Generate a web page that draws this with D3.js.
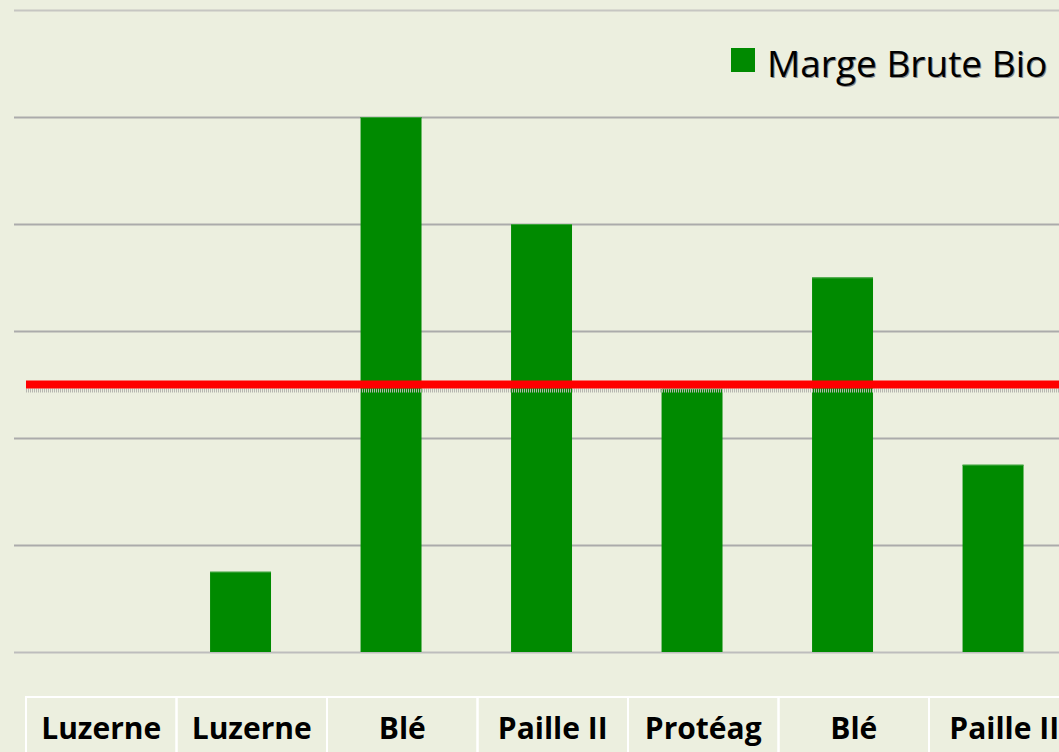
<!DOCTYPE html>
<html lang="fr">
<head>
<meta charset="utf-8">
<title>Marge Brute Bio</title>
<style>
  body { margin: 0; background: #ECEFDF; overflow: hidden; }
  svg { display: block; }
  .grid line { stroke-width: 2px; }
  .grid .domain { display: none; }
  .cat { font-family: "Open Sans", sans-serif; font-weight: bold; font-size: 30px; fill: #000; }
  .leg { font-family: "Open Sans", sans-serif; font-size: 37px; fill: #000; }
</style>
</head>
<body>
<svg width="1059" height="752"></svg>
<script src="https://d3js.org/d3.v7.min.js"></script>
<script>
// data (one gridline = 100)
var categories = ["Luzerne", "Luzerne", "Blé", "Paille II", "Protéag", "Blé", "Paille II"];
var margeBio = [0, 75, 500, 400, 246, 350, 175];
var seuil = 250;
var gridTicks = [0, 100, 200, 300, 400, 500, 600];

var svg = d3.select("svg");
var W = 1059;

var x = d3.scaleBand().domain(d3.range(categories.length)).range([26, 26 + 7 * 150.5]).padding(0);
var y = d3.scaleLinear().domain([0, 600]).range([652, 10]);

// gridlines
var grid = svg.append("g")
    .attr("class", "grid")
    .attr("transform", "translate(14,0)")
    .call(d3.axisLeft(y).tickValues(gridTicks).tickSize(-(W - 14)).tickFormat(""));
grid.selectAll(".tick line")
    .style("stroke", function(d) { return d == 600 ? "#C6C6C2" : (d == 0 ? "#BDBDBD" : "#ABABAB"); });

// bars
var bw = x.bandwidth();
svg.selectAll("rect.bar")
   .data(margeBio)
   .enter()
   .append("rect")
   .attr("class", "bar")
   .attr("x", function(d, i) { return x(i) + bw * 0.223; })
   .attr("width", bw * 0.405)
   .attr("y", function(d) { return y(d); })
   .attr("height", function(d) { return y(0) - y(d); })
   .attr("fill", "#008A00");

// light top edge of bars
svg.selectAll("line.edge")
   .data(margeBio.filter(function(d) { return d > 0; }))
   .enter()
   .append("line")
   .attr("x1", function(d) { return x(margeBio.indexOf(d)) + bw * 0.223; })
   .attr("x2", function(d) { return x(margeBio.indexOf(d)) + bw * 0.628; })
   .attr("y1", function(d) { return y(d) + 0.5; })
   .attr("y2", function(d) { return y(d) + 0.5; })
   .attr("stroke", "#3BA23B")
   .attr("stroke-width", 1);

// red threshold line + its shadow
svg.append("line")
   .attr("x1", 26).attr("x2", W)
   .attr("y1", y(seuil) + 6).attr("y2", y(seuil) + 6)
   .attr("stroke", "#B5B5B0").attr("stroke-width", 4)
   .attr("stroke-dasharray", "1 1");
svg.append("line")
   .attr("x1", 26).attr("x2", W)
   .attr("y1", y(seuil)).attr("y2", y(seuil))
   .attr("stroke", "#FF0000").attr("stroke-width", 8);

// category table
var tableTop = 697;
var cells = svg.append("g");
cells.selectAll("rect")
   .data(categories)
   .enter()
   .append("rect")
   .attr("x", function(d, i) { return x(i); })
   .attr("y", tableTop)
   .attr("width", bw)
   .attr("height", 120)
   .attr("fill", "none")
   .attr("stroke", "#FFFFFF")
   .attr("stroke-width", 2);

cells.selectAll("text")
   .data(categories)
   .enter()
   .append("text")
   .attr("class", "cat")
   .attr("x", function(d, i) { return x(i) + bw / 2; })
   .attr("y", 739)
   .attr("text-anchor", "middle")
   .text(function(d) { return d; });

// legend
var leg = svg.append("g");
leg.append("rect")
   .attr("x", 731).attr("y", 48)
   .attr("width", 24).attr("height", 24)
   .attr("fill", "#008A00");
leg.append("text")
   .attr("class", "leg")
   .attr("x", 768).attr("y", 78)
   .style("fill", "#8A8A8A")
   .text("Marge Brute Bio");
leg.append("text")
   .attr("class", "leg")
   .attr("x", 767).attr("y", 77)
   .text("Marge Brute Bio");
</script>
</body>
</html>
